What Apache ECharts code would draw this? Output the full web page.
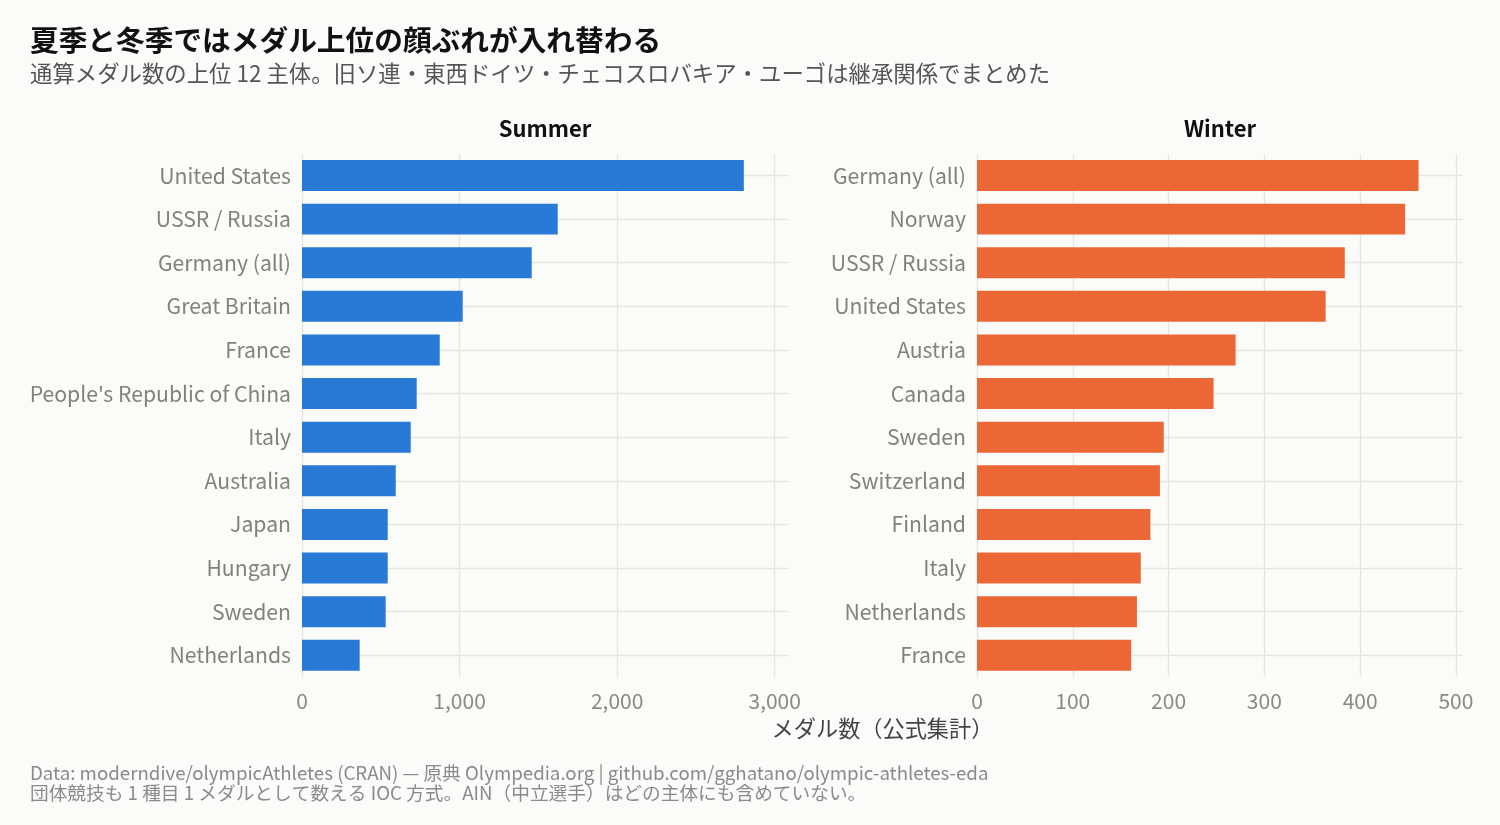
<!DOCTYPE html>
<html>
<head>
<meta charset="utf-8">
<script src="https://cdn.jsdelivr.net/npm/echarts@6/dist/echarts.min.js"></script>
<style>
html,body{margin:0;padding:0;background:#fbfbf9;}
#c{width:1500px;height:825px;}
</style>
</head>
<body>
<div id="c"></div>
<script>
const summerCategories = ['United States','USSR / Russia','Germany (all)','Great Britain','France',"People's Republic of China",'Italy','Australia','Japan','Hungary','Sweden','Netherlands'];
const summerValues = [2804, 1623, 1458, 1020, 874, 728, 690, 595, 544, 544, 531, 366];
const winterCategories = ['Germany (all)','Norway','USSR / Russia','United States','Austria','Canada','Sweden','Switzerland','Finland','Italy','Netherlands','France'];
const winterValues = [461, 447, 384, 364, 270, 247, 195, 191, 181, 171, 167, 161];
const summerTicks = [0, 1000, 2000, 3000];
const winterTicks = [0, 100, 200, 300, 400, 500];

const FONT = '"Noto Sans CJK JP", "Noto Sans", sans-serif';
const GRID_C = '#e6e5e0';
const BG = '#fbfbf9';

const summerMax = Math.max(...summerValues) * 1.1;
const winterMax = Math.max(...winterValues) * 1.1;

function splitColors(ticks) {
  const arr = ticks.map(() => GRID_C);
  arr.push('rgba(0,0,0,0)');
  return arr;
}

const gridTop = 153.7, gridH = 523.4;

const chart = echarts.init(document.getElementById('c'), null, {renderer: 'canvas'});

function xAxis(gi, ticks, max) {
  return {
    type: 'value', gridIndex: gi, min: 0, max: max,
    interval: ticks[1] - ticks[0],
    axisLine: {show: false}, axisTick: {show: false},
    splitLine: {show: true, lineStyle: {color: splitColors(ticks), width: 1.3}},
    axisLabel: {
      show: true, margin: 13, color: '#8a8a85', fontSize: 21, fontFamily: FONT,
      showMaxLabel: false,
      formatter: v => ticks.indexOf(v) >= 0 ? v.toLocaleString('en-US') : ''
    }
  };
}
function yAxis(gi, cats) {
  return {
    type: 'category', gridIndex: gi, data: cats, inverse: true,
    axisLine: {show: false}, axisTick: {show: false},
    splitLine: {show: true, alignWithLabel: true, lineStyle: {color: GRID_C, width: 1.3}},
    axisLabel: {margin: 11, color: '#82827c', fontSize: 21.2, fontFamily: FONT}
  };
}

chart.setOption({
  backgroundColor: BG,
  animation: false,
  textStyle: {fontFamily: FONT},
  grid: [
    {left: 302, width: 486, top: gridTop, height: gridH, containLabel: false},
    {left: 977, width: 485.7, top: gridTop, height: gridH, containLabel: false}
  ],
  xAxis: [xAxis(0, summerTicks, summerMax), xAxis(1, winterTicks, winterMax)],
  yAxis: [yAxis(0, summerCategories), yAxis(1, winterCategories)],
  series: [
    {type: 'bar', xAxisIndex: 0, yAxisIndex: 0, data: summerValues, barWidth: '71%',
     itemStyle: {color: '#2979d6'}, silent: true},
    {type: 'bar', xAxisIndex: 1, yAxisIndex: 1, data: winterValues, barWidth: '71%',
     itemStyle: {color: '#eb6836'}, silent: true}
  ],
  graphic: [
    {type: 'text', x: 30, y: 40, style: {text: '夏季と冬季ではメダル上位の顔ぶれが入れ替わる', font: 'bold 28.7px ' + FONT, fill: '#111', verticalAlign: 'middle'}},
    {type: 'text', x: 30, y: 73, style: {text: '通算メダル数の上位 12 主体。旧ソ連・東西ドイツ・チェコスロバキア・ユーゴは継承関係でまとめた', font: '22.4px ' + FONT, fill: '#555', verticalAlign: 'middle'}},
    {type: 'text', x: 545, y: 129, style: {text: 'Summer', font: 'bold 22px ' + FONT, fill: '#111', align: 'center', verticalAlign: 'middle'}},
    {type: 'text', x: 1220, y: 129, style: {text: 'Winter', font: 'bold 22px ' + FONT, fill: '#111', align: 'center', verticalAlign: 'middle'}},
    {type: 'text', x: 882.5, y: 729, style: {text: 'メダル数（公式集計）', font: '22.2px ' + FONT, fill: '#444', align: 'center', verticalAlign: 'middle'}},
    {type: 'text', x: 30, y: 773, style: {text: 'Data: moderndive/olympicAthletes (CRAN) — 原典 Olympedia.org | github.com/gghatano/olympic-athletes-eda', font: '18.7px ' + FONT, fill: '#8a8a8a', verticalAlign: 'middle'}},
    {type: 'text', x: 30, y: 793, style: {text: '団体競技も 1 種目 1 メダルとして数える IOC 方式。AIN（中立選手）はどの主体にも含めていない。', font: '18.7px ' + FONT, fill: '#8a8a8a', verticalAlign: 'middle'}}
  ]
});
</script>
</body>
</html>
